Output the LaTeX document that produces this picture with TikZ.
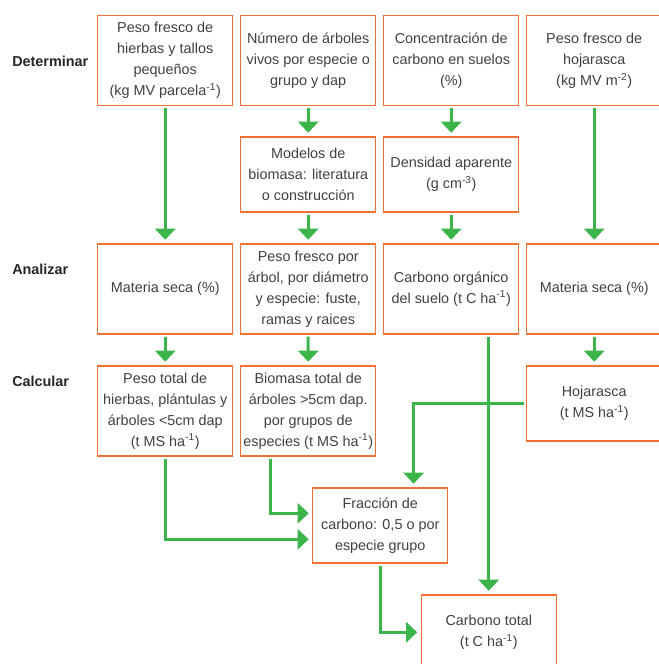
\documentclass[tikz,border=0pt]{standalone}
\usepackage{fontspec}
\setmainfont{Liberation Sans}
\usetikzlibrary{positioning, arrows.meta}
\definecolor{boxorange}{RGB}{242,112,50}
\definecolor{arrowgreen}{RGB}{59,181,74}
\definecolor{textgray}{RGB}{64,64,64}
\begin{document}
\begin{tikzpicture}
\tikzstyle{box} = [rectangle, minimum width=101.25pt, minimum height=67.5pt, inner sep=2pt, align=center, draw=boxorange, line width=1.1pt, text=textgray, font=\fontsize{10.8}{15.75}\selectfont]
\tikzstyle{short} = [minimum height=56.25pt]
\tikzstyle{stage} = [anchor=west, inner sep=0pt, text=black!85, font=\fontsize{10.8}{13}\selectfont\bfseries]
\tikzstyle{arrow} = [arrowgreen, line width=2.25pt, -{Triangle[width=15pt, length=8.25pt]}, shorten <=1.5pt, shorten >=2.5pt]
\useasboundingbox (0,0) rectangle (494.25pt,-498pt);
% Stages
\node (determinar) [stage] at (9pt,-45.75pt) {Determinar};
\node (analizar) [stage] at (9pt,-201.75pt) {Analizar};
\node (calcular) [stage] at (9pt,-285.75pt) {Calcular};

% Nodes
\node (hierbas) [box, anchor=north west] at (72.75pt,-11.25pt) {Peso fresco de\\hierbas y tallos\\pequeños\\(kg MV parcela\textsuperscript{-1})};
\node (arboles) [box, right=4.9pt of hierbas] {Número de árboles\\vivos por especie o\\grupo y dap};
\node (concentracion) [box, right=4.9pt of arboles] {Concentración de\\carbono en suelos\\(\%)};
\node (hojafresca) [box, right=4.9pt of concentracion] {Peso fresco de\\hojarasca\\(kg MV m\textsuperscript{-2})};
\node (modelos) [box, short, below=22.2pt of arboles] {Modelos de\\biomasa: literatura\\o construcción};
\node (densidad) [box, short, right=4.9pt of modelos] {Densidad aparente\\(g cm\textsuperscript{-3})};
\node (pesoarbol) [box, below=22.9pt of modelos] {Peso fresco por\\árbol, por diámetro\\y especie: fuste,\\ramas y raices};
\node (materia) [box, left=4.9pt of pesoarbol] {Materia seca (\%)};
\node (suelo) [box, right=4.9pt of pesoarbol] {Carbono orgánico\\del suelo (t C ha\textsuperscript{-1})};
\node (materiahoja) [box, right=4.9pt of suelo] {Materia seca (\%)};
\node (pesototal) [box, below=22.9pt of materia] {Peso total de\\hierbas, plántulas y\\árboles <5cm dap\\(t MS ha\textsuperscript{-1})};
\node (biomasa) [box, right=4.9pt of pesototal] {Biomasa total de\\árboles >5cm dap.\\por grupos de\\especies (t MS ha\textsuperscript{-1})};
\node (hojarasca) [box, short, below=22.9pt of materiahoja] {Hojarasca\\(t MS ha\textsuperscript{-1})};
\node (fraccion) [box, short, below=22.9pt of biomasa, xshift=54pt] {Fracción de\\carbono: 0,5 o por\\especie grupo};
\node (total) [box, short, below=22.9pt of fraccion, xshift=81.4pt] {Carbono total\\(t C ha\textsuperscript{-1})};

% Arrows
\draw [arrow] (hierbas) -- (materia);
\draw [arrow] (arboles) -- (modelos);
\draw [arrow] (modelos) -- (pesoarbol);
\draw [arrow] (concentracion) -- (densidad);
\draw [arrow] (densidad) -- (suelo);
\draw [arrow] (hojafresca) -- (materiahoja);
\draw [arrow] (materia) -- (pesototal);
\draw [arrow] (pesoarbol) -- (biomasa);
\draw [arrow] (materiahoja) -- (hojarasca);
\draw [arrow] (suelo.south -| total.north) -- (total.north);
\draw [arrow] (hojarasca.west) -| ([xshift=25pt]fraccion.north);
\draw [arrow] ([xshift=-28pt]biomasa.south) |- ([yshift=9pt]fraccion.west);
\draw [arrow] (pesototal.south) |- ([yshift=-10.5pt]fraccion.west);
\draw [arrow] (fraccion.south) |- (total.west);

\end{tikzpicture}
\end{document}
